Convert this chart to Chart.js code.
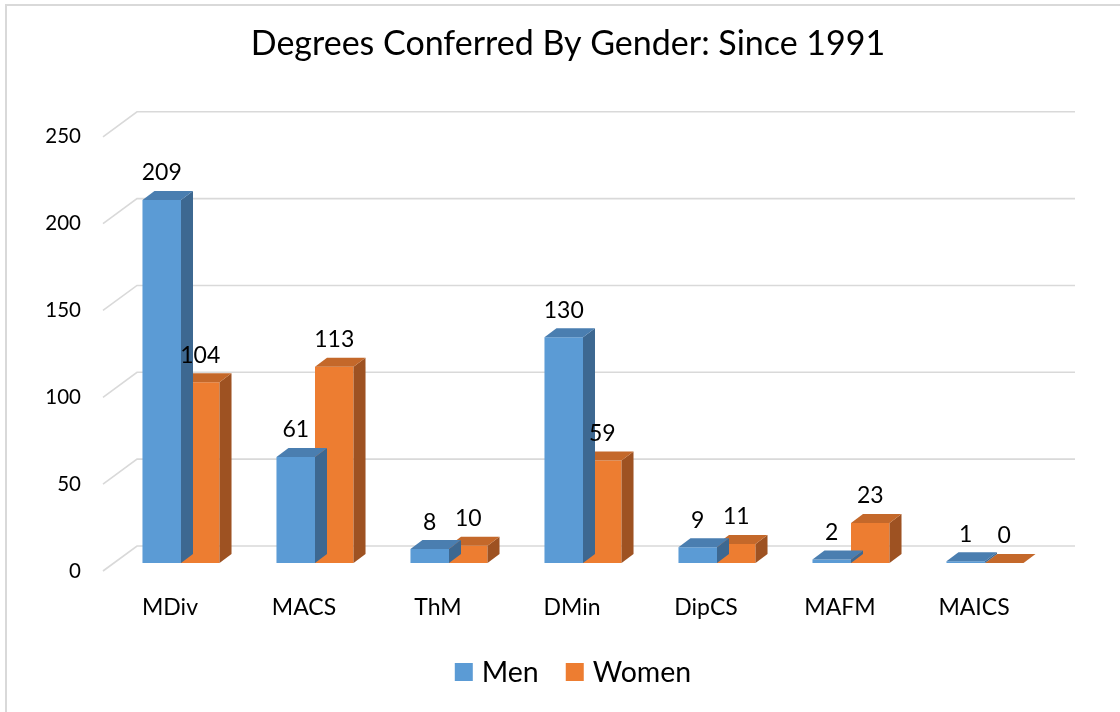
<!DOCTYPE html>
<html>
<head>
<meta charset="utf-8">
<script src="https://cdn.jsdelivr.net/npm/chart.js@4.4.1/dist/chart.umd.min.js"></script>
<style>
  html, body { margin: 0; padding: 0; background: #fff; }
  canvas { display: block; }
</style>
</head>
<body>
<canvas id="degreesChart" width="1120" height="712"></canvas>
<script>
// chart data
const degreeNames = ['MDiv', 'MACS', 'ThM', 'DMin', 'DipCS', 'MAFM', 'MAICS'];
const menCounts = [209, 61, 8, 130, 9, 2, 1];
const womenCounts = [104, 113, 10, 59, 11, 23, 0];
const yTicks = [0, 50, 100, 150, 200, 250];
const seriesNames = ['Men', 'Women'];
const chartTitle = 'Degrees Conferred By Gender: Since 1991';

// 3d look, all relative to the front face of the bars
const BAR_DX = 12, BAR_DY = 9;      // depth of each bar
const FRONT_DX = 11, FRONT_DY = 8;  // front edge of the floor
const WALL_DX = 23, WALL_DY = 17;   // back wall
const GRID_COLOR = '#D9D9D9';

Chart.defaults.font.family = 'Lato';
Chart.defaults.color = '#000';

// back wall gridlines with the little diagonal on the left
const gridPlugin = {
    id: 'grid3d',
    beforeDatasetsDraw(chart) {
        const { ctx, chartArea } = chart;
        const yScale = chart.scales.y;
        ctx.save();
        ctx.strokeStyle = GRID_COLOR;
        ctx.lineWidth = 1.6;
        yScale.ticks.forEach(t => {
            const y = yScale.getPixelForValue(t.value);
            ctx.beginPath();
            ctx.moveTo(chartArea.left - FRONT_DX, y + FRONT_DY);
            ctx.lineTo(chartArea.left + WALL_DX, y - WALL_DY);
            ctx.lineTo(chartArea.right + WALL_DX, y - WALL_DY);
            ctx.stroke();
        });
        ctx.restore();
    }
};

// top and side faces, drawn right after each dataset so the next one covers them
const boxPlugin = {
    id: 'box3d',
    afterDatasetDraw(chart, args) {
        const { ctx } = chart;
        const ds = chart.data.datasets[args.index];
        ctx.save();
        args.meta.data.forEach(bar => {
            const { x, y, base, width } = bar.getProps(['x', 'y', 'base', 'width'], true);
            const left = x - width / 2, right = x + width / 2;
            ctx.fillStyle = ds.sideColor;
            ctx.beginPath();
            ctx.moveTo(right, y);
            ctx.lineTo(right + BAR_DX, y - BAR_DY);
            ctx.lineTo(right + BAR_DX, base - BAR_DY);
            ctx.lineTo(right, base);
            ctx.closePath();
            ctx.fill();
            ctx.fillStyle = ds.topColor;
            ctx.beginPath();
            ctx.moveTo(left, y);
            ctx.lineTo(right, y);
            ctx.lineTo(right + BAR_DX, y - BAR_DY);
            ctx.lineTo(left + BAR_DX, y - BAR_DY);
            ctx.closePath();
            ctx.fill();
        });
        ctx.restore();
    },
    afterDatasetsDraw(chart) {
        // value labels above every bar
        const { ctx } = chart;
        ctx.save();
        ctx.font = '23px Lato';
        ctx.fillStyle = '#000';
        ctx.textAlign = 'center';
        ctx.textBaseline = 'middle';
        chart.data.datasets.forEach((ds, i) => {
            chart.getDatasetMeta(i).data.forEach((bar, j) => {
                ctx.fillText(String(ds.data[j]), bar.x, bar.y - 27);
            });
        });
        ctx.restore();
    }
};

// frame + legend at the bottom
const framePlugin = {
    id: 'frame',
    beforeDraw(chart) {
        const { ctx, width, height } = chart;
        ctx.save();
        ctx.fillStyle = '#fff';
        ctx.fillRect(0, 0, width, height);
        ctx.strokeStyle = GRID_COLOR;
        ctx.lineWidth = 2;
        ctx.beginPath();
        ctx.moveTo(6, height);
        ctx.lineTo(6, 5);
        ctx.lineTo(width, 5);
        ctx.stroke();
        ctx.restore();
    },
    afterDraw(chart) {
        const { ctx } = chart;
        const box = 18, gap = 9, spacing = 27, cy = 672;
        ctx.save();
        ctx.font = '28.5px Lato';
        ctx.textBaseline = 'middle';
        const items = chart.data.datasets.map(ds => ({ text: ds.label, color: ds.backgroundColor, w: ctx.measureText(ds.label).width }));
        const total = items.reduce((s, it) => s + box + gap + it.w, 0) + spacing * (items.length - 1);
        let x = 573 - total / 2;
        items.forEach(it => {
            ctx.fillStyle = it.color;
            ctx.fillRect(x, cy - box / 2, box, box);
            ctx.fillStyle = '#000';
            ctx.fillText(it.text, x + box + gap, cy + 1);
            x += box + gap + it.w + spacing;
        });
        ctx.restore();
    }
};

new Chart(document.getElementById('degreesChart'), {
    type: 'bar',
    data: {
        labels: degreeNames,
        datasets: [{
            label: seriesNames[0],
            data: menCounts,
            backgroundColor: '#5B9BD5',
            topColor: '#4A7EB0',
            sideColor: '#3D6891',
            borderWidth: 0
        }, {
            label: seriesNames[1],
            data: womenCounts,
            backgroundColor: '#ED7D31',
            topColor: '#C4682A',
            sideColor: '#9E5222',
            borderWidth: 0
        }]
    },
    options: {
        responsive: false,
        animation: false,
        // left/right kept uneven so the title sits where the original has it
        layout: { padding: { left: 40, right: 24, top: 0, bottom: 0 } },
        datasets: {
            bar: { categoryPercentage: 0.575, barPercentage: 1.0 }
        },
        scales: {
            x: {
                grid: { display: false, drawTicks: false },
                border: { display: false },
                ticks: { font: { size: 23 }, padding: 31, labelOffset: -FRONT_DX },
                afterFit: scale => { scale.height = 149; }
            },
            y: {
                min: yTicks[0],
                max: yTicks[yTicks.length - 1],
                grid: { display: false, drawTicks: false },
                border: { display: false },
                ticks: { stepSize: yTicks[1] - yTicks[0], font: { size: 20.5 }, padding: 33, labelOffset: FRONT_DY },
                afterFit: scale => { scale.width = 74; }
            },
            // empty axis that only reserves the room right of the plot
            yRight: {
                type: 'linear',
                position: 'right',
                grid: { display: false, drawTicks: false },
                border: { display: false },
                ticks: { display: false },
                afterFit: scale => { scale.width = 44; }
            }
        },
        plugins: {
            legend: { display: false },
            tooltip: { enabled: false },
            title: {
                display: true,
                text: chartTitle,
                color: '#000',
                font: { size: 34, weight: 'normal', lineHeight: 1.2 },
                padding: { top: 24, bottom: 64 }
            }
        }
    },
    plugins: [gridPlugin, boxPlugin, framePlugin]
});
</script>
</body>
</html>
